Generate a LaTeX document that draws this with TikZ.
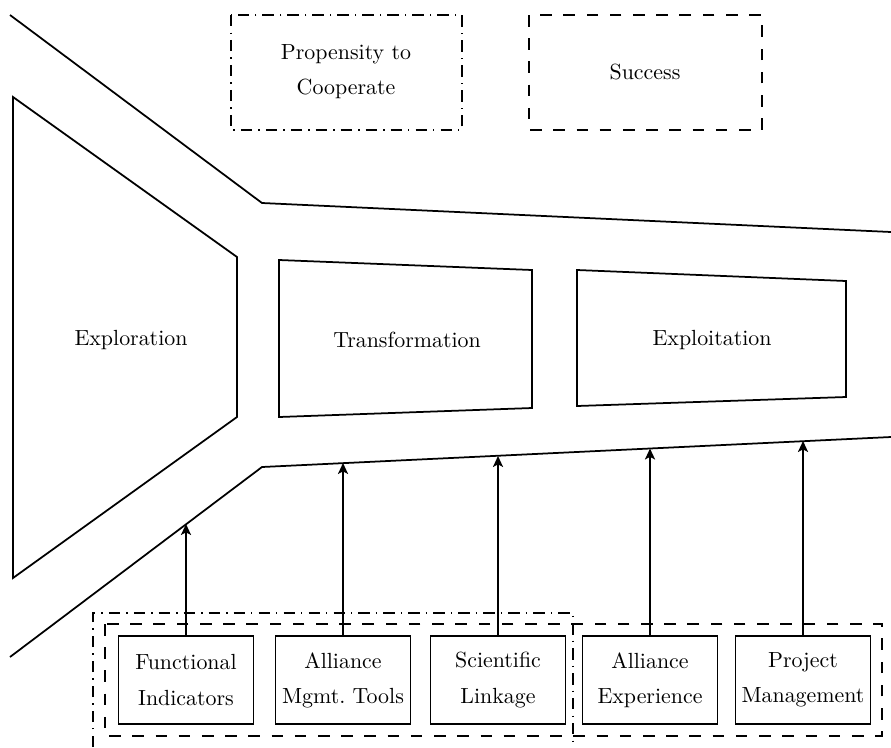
\documentclass[tikz,border=0pt]{standalone}
\usetikzlibrary{arrows.meta}
\begin{document}
\begin{tikzpicture}[
  x=0.4566pt, y=-0.4566pt,
  every node/.style={font=\fontsize{10}{16}\selectfont, align=center},
  outline/.style={line width=0.8pt, line join=miter},
  stage/.style={draw, line width=0.8pt, minimum width=61.6pt, minimum height=40.2pt, inner sep=0pt},
  dashframe/.style={line width=0.8pt, dash pattern=on 5.3pt off 5.3pt},
  dotframe/.style={line width=0.8pt, dash pattern=on 5.2pt off 2.8pt on 0.6pt off 2.8pt},
  feed/.style={line width=0.8pt, -{Stealth[length=5pt,width=4.6pt,inset=1.2pt]}}
]
\useasboundingbox (0,0) rectangle (891,747);

% funnel walls
\draw[outline] (10,15) -- (262,203) -- (891,232);
\draw[outline] (10,657) -- (262,467) -- (891,437);

% phases
\draw[outline] (13,97) -- (237,257) -- (237,417) -- (13,578) -- cycle;
\node (explor) at (131,340) {Exploration};
\draw[outline] (279,260) -- (532,270) -- (532,408) -- (279,417) -- cycle;
\node (transf) at (407,340) {Transformation};
\draw[outline] (577,270) -- (846,281) -- (846,397) -- (577,406) -- cycle;
\node (exploit) at (712,340) {Exploitation};

% legend boxes
\draw[dotframe] (231,15) rectangle (462,130);
\node (prop) at (346,72) {Propensity to\\Cooperate};
\draw[dashframe] (529,15) rectangle (762,130);
\node (succ) at (645,72) {Success};

% grouping frames
\draw[dotframe] (93,747) -- (93,613) -- (573,613) -- (573,747);
\draw[dashframe] (105,624) rectangle (882,736);

% factor boxes
\node[stage] (func) at (186,680) {Functional\\Indicators};
\node[stage] (amt)  at (343,680) {Alliance\\Mgmt.\ Tools};
\node[stage] (sci)  at (498,680) {Scientific\\Linkage};
\node[stage] (aexp) at (650,680) {Alliance\\Experience};
\node[stage] (pm)   at (803,680) {Project\\Management};

% arrow tips on the lower wall
\coordinate (t1) at (186,524);
\coordinate (t2) at (343,463);
\coordinate (t3) at (498,456);
\coordinate (t4) at (650,448.5);
\coordinate (t5) at (803,441);

\draw[feed] (func) -- (t1);
\draw[feed] (amt)  -- (t2);
\draw[feed] (sci)  -- (t3);
\draw[feed] (aexp) -- (t4);
\draw[feed] (pm)   -- (t5);
\end{tikzpicture}
\end{document}
